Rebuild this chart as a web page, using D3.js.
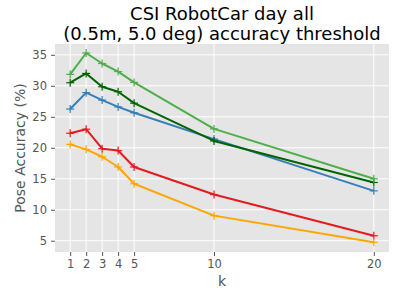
<!DOCTYPE html>
<html><head><meta charset="utf-8">
<script src="https://cdn.jsdelivr.net/npm/d3@7"></script>
<style>body{margin:0;background:#fff}svg{display:block}text{font-family:"DejaVu Sans",sans-serif}</style>
</head><body><svg id="c" width="400" height="288"></svg>
<script>
const ks = [1, 2, 3, 4, 5, 10, 20];
const blue = [26.25, 28.9, 27.7, 26.6, 25.65, 21.4, 13.05];
const darkGreen = [30.5, 32.0, 29.85, 29.05, 27.2, 21.1, 14.4];
const lightGreen = [31.85, 35.3, 33.6, 32.3, 30.55, 23.05, 15.0];
const red = [22.35, 23.0, 19.85, 19.55, 16.9, 12.45, 5.8];
const orange = [20.55, 19.75, 18.55, 16.9, 14.2, 9.05, 4.75];
const yTicks = [5, 10, 15, 20, 25, 30, 35];
const series = [
  {v: red, c: "#e41a1c"},
  {v: orange, c: "#ffa500"},
  {v: blue, c: "#377eb8"},
  {v: darkGreen, c: "#006400"},
  {v: lightGreen, c: "#4daf4a"}
];
const svg = d3.select("#c");
const L = 55, R = 389, T = 44, B = 252;
const x = d3.scaleLinear().domain([0.05, 20.95]).range([L, R]);
const y = d3.scaleLinear().domain([3.18, 36.75]).range([B, T]);
svg.append("rect").attr("x", L).attr("y", T).attr("width", R - L).attr("height", B - T).attr("fill", "#e5e5e5");
const g = svg.append("g");
g.selectAll(".gx").data(ks).join("line").attr("x1", d => x(d)).attr("x2", d => x(d)).attr("y1", T).attr("y2", B).attr("stroke", "#fff").attr("stroke-width", 1);
g.selectAll(".gy").data(yTicks).join("line").attr("y1", d => y(d)).attr("y2", d => y(d)).attr("x1", L).attr("x2", R).attr("stroke", "#fff").attr("stroke-width", 1);
const xa = svg.append("g").attr("transform", `translate(0,${B})`).call(d3.axisBottom(x).tickValues(ks).tickSize(4).tickPadding(4).tickFormat(d3.format("d")));
const ya = svg.append("g").attr("transform", `translate(${L},0)`).call(d3.axisLeft(y).tickValues(yTicks).tickSize(4).tickPadding(4).tickFormat(d3.format("d")));
[xa, ya].forEach(a => {
  a.select(".domain").remove();
  a.selectAll("line").attr("stroke", "#555555");
  a.selectAll("text").attr("fill", "#555555").style("font-size", "11.5px").style("font-family", "DejaVu Sans");
});
const line = d3.line().x((d, i) => x(ks[i])).y(d => y(d));
series.forEach(s => {
  svg.append("path").datum(s.v).attr("d", line).attr("fill", "none").attr("stroke", s.c).attr("stroke-width", 2).attr("stroke-linejoin", "round");
  const m = svg.append("g");
  s.v.forEach((v, i) => {
    const cx = x(ks[i]), cy = y(v), r = 4;
    m.append("line").attr("x1", cx - r).attr("x2", cx + r).attr("y1", cy).attr("y2", cy).attr("stroke", s.c).attr("stroke-width", 1.2);
    m.append("line").attr("x1", cx).attr("x2", cx).attr("y1", cy - r).attr("y2", cy + r).attr("stroke", s.c).attr("stroke-width", 1.2);
  });
});
svg.append("text").attr("x", (L + R) / 2).attr("y", 20).attr("text-anchor", "middle").style("font-size", "18px").attr("fill", "#000").text("CSI RobotCar day all");
svg.append("text").attr("x", (L + R) / 2).attr("y", 39.5).attr("text-anchor", "middle").style("font-size", "18px").attr("fill", "#000").text("(0.5m, 5.0 deg) accuracy threshold");
svg.append("text").attr("x", (L + R) / 2).attr("y", 286).attr("text-anchor", "middle").style("font-size", "14px").attr("fill", "#555555").text("k");
svg.append("text").attr("transform", `translate(24.5,${(T + B) / 2}) rotate(-90)`).attr("text-anchor", "middle").style("font-size", "14px").attr("fill", "#555555").text("Pose Accuracy (%)");
</script></body></html>
